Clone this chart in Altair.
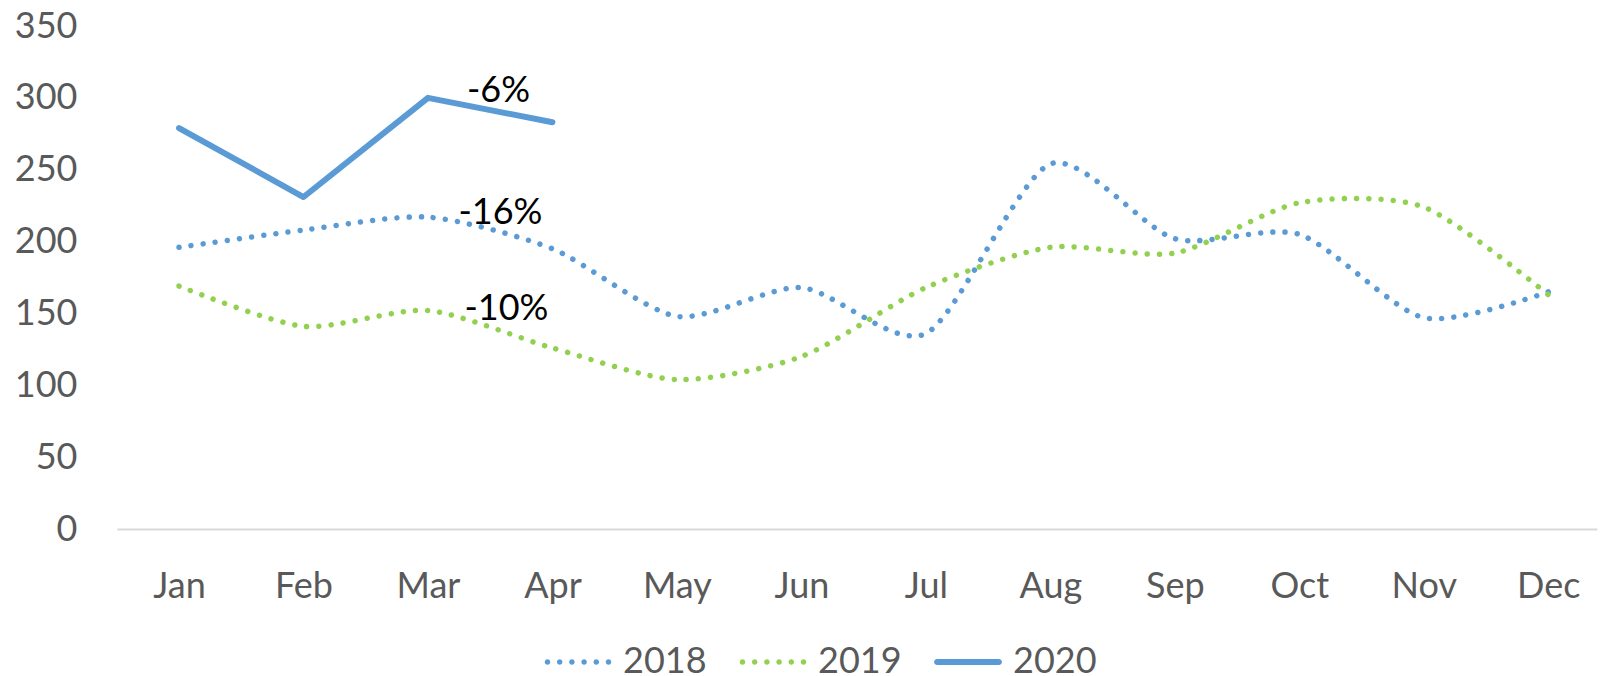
import altair as alt
import pandas as pd

# ---- data ----
months = ["Jan", "Feb", "Mar", "Apr", "May", "Jun", "Jul", "Aug", "Sep", "Oct", "Nov", "Dec"]
years = ["2018", "2019", "2020"]
v2018 = [196, 208, 217, 195, 148, 168, 136, 254, 202, 205, 147, 165]
v2019 = [169, 141, 152, 126, 104, 120, 168, 196, 192, 227, 224, 163]
v2020 = [279, 231, 300, 283]
label_texts = ["-16%", "-10%", "-6%"]
label_month = "Apr"
y_ticks = [0, 50, 100, 150, 200, 250, 300, 350]

colors = ["#5B9BD5", "#92D050", "#5B9BD5"]
FONT = "Lato"
GREY = "#595959"

rows = []
for yr, vals in zip(years, [v2018, v2019, v2020]):
    for m, v in zip(months, vals):
        rows.append({"month": m, "year": yr, "value": v})
df = pd.DataFrame(rows)

i_lab = months.index(label_month)
labels = pd.DataFrame({
    "year": years,
    "month": [label_month] * 3,
    "value": [v2018[i_lab], v2019[i_lab], v2020[i_lab]],
    "text": label_texts,
})

x_enc = alt.X(
    "month:N", sort=months,
    scale=alt.Scale(type="point", domain=months, padding=0.445, align=0.56),
    axis=alt.Axis(title=None, labelAngle=0, labelFontSize=36, labelFont=FONT,
                  labelColor=GREY, domainColor="#D9D9D9", domainWidth=2,
                  ticks=False, tickSize=0, labelPadding=40, grid=False),
)
y_enc = alt.Y(
    "value:Q",
    scale=alt.Scale(domain=[0, 350], nice=False),
    axis=alt.Axis(values=y_ticks, title=None, domain=False, ticks=False, tickSize=0,
                  grid=False, labelPadding=40, labelFontSize=36, labelFont=FONT,
                  labelColor=GREY),
)

base = alt.Chart(df).encode(x=x_enc, y=y_enc)

dot_style = dict(strokeWidth=5.5, strokeDash=[0.01, 12.2], strokeCap="round",
                 interpolate="cardinal", tension=0.25)

l2018 = base.transform_filter(alt.datum.year == "2018").mark_line(color=colors[0], **dot_style)
l2019 = base.transform_filter(alt.datum.year == "2019").mark_line(color=colors[1], **dot_style)
l2020 = base.transform_filter(alt.datum.year == "2020").mark_line(
    color=colors[2], strokeWidth=6, strokeCap="round", strokeJoin="round")

lab_base = alt.Chart(labels).encode(x=x_enc, y=y_enc, text="text:N")
text_style = dict(fontSize=36, font=FONT, color="black", align="center", baseline="middle")
t2018 = lab_base.transform_filter(alt.datum.year == "2018").mark_text(dx=-52, dy=-36, **text_style)
t2019 = lab_base.transform_filter(alt.datum.year == "2019").mark_text(dx=-46, dy=-39, **text_style)
t2020 = lab_base.transform_filter(alt.datum.year == "2020").mark_text(dx=-54, dy=-31, **text_style)

# legend symbols (custom paths in the [-1, 1] symbol space)
def circ(cx, r):
    return f"M{cx - r:.3f},0a{r},{r} 0 1,0 {2 * r:.3f},0a{r},{r} 0 1,0 {-2 * r:.3f},0"

dots = "".join(circ(c, 0.081) for c in [-0.897, -0.538, -0.179, 0.179, 0.538, 0.897])
solid = "M-0.91,-0.088H0.91A0.088,0.088 0 0,1 0.91,0.088H-0.91A0.088,0.088 0 0,1 -0.91,-0.088Z"

leg = alt.Legend(title=None, orient="none", legendX=427, legendY=602, direction="horizontal",
                 symbolSize=4624, symbolStrokeWidth=0, labelFontSize=36, labelFont=FONT,
                 labelColor=GREY, labelOffset=11, columnPadding=32, padding=0,
                 symbolOpacity=1)

legend_layer = base.transform_filter("false").mark_point(filled=True, opacity=1, size=4624).encode(
    color=alt.Color("year:N", scale=alt.Scale(domain=years, range=colors), legend=leg),
    shape=alt.Shape("year:N", scale=alt.Scale(domain=years, range=[dots, dots, solid]), legend=leg),
)

chart = alt.layer(l2018, l2019, l2020, t2018, t2019, t2020, legend_layer).properties(
    width=1480, height=503,
    autosize=alt.AutoSizeParams(type="none"),
    padding={"left": 109, "top": 18, "right": 1, "bottom": 145},
    background="white",
).configure_view(stroke=None)

chart.save("out.html", embed_options={"renderer": "svg", "actions": False})
